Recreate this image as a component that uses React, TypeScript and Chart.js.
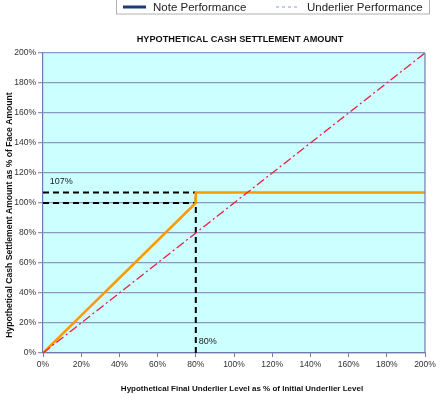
import React, { useEffect, useRef } from "react";
import { Chart, registerables } from "chart.js";

Chart.register(...registerables);

const chartTitle = "HYPOTHETICAL CASH SETTLEMENT AMOUNT";
const xAxisTitle = "Hypothetical Final Underlier Level as % of Initial Underlier Level";
const yAxisTitle = "Hypothetical Cash Settlement Amount as % of Face Amount";
const legendLabels = ["Note Performance", "Underlier Performance"];

const noteX = [0, 80, 80, 200];
const noteY = [0, 100, 107, 107];
const underlierX = [0, 200];
const underlierY = [0, 200];

const capLevel = 107;
const parLevel = 100;
const thresholdLevel = 80;
const capLabel = "107%";
const thresholdLabel = "80%";

const axisMin = 0;
const axisMax = 200;
const axisStep = 20;

const FONT = "'Liberation Sans', Arial, sans-serif";

const toPts = (xs: number[], ys: number[]) => xs.map((x, i) => ({ x, y: ys[i] }));

const decor = {
  id: "decor",
  beforeDraw(chart: any) {
    const { ctx, chartArea: a } = chart;
    ctx.save();
    ctx.fillStyle = "#ffffff";
    ctx.fillRect(0, 0, chart.width, chart.height);
    ctx.fillStyle = "#ccffff";
    ctx.fillRect(a.left, a.top, a.right - a.left, a.bottom - a.top);
    ctx.restore();
  },
  afterDraw(chart: any) {
    const { ctx, chartArea: a, scales } = chart;
    const xs = scales.x;
    const ys = scales.y;
    ctx.save();
    // right border
    ctx.strokeStyle = "#6f7bb0";
    ctx.lineWidth = 1.2;
    ctx.beginPath();
    ctx.moveTo(a.right, a.top);
    ctx.lineTo(a.right, a.bottom);
    ctx.stroke();

    // legend box
    ctx.fillStyle = "#ffffff";
    ctx.fillRect(116, 0, 314, 14);
    ctx.strokeStyle = "#b0b0b0";
    ctx.lineWidth = 1;
    ctx.strokeRect(116.5, -1, 313, 15);
    ctx.strokeStyle = "#1f3a7a";
    ctx.lineWidth = 3;
    ctx.beginPath();
    ctx.moveTo(123, 7);
    ctx.lineTo(146, 7);
    ctx.stroke();
    ctx.strokeStyle = "#7fa0d8";
    ctx.lineWidth = 1;
    ctx.setLineDash([3, 3]);
    ctx.beginPath();
    ctx.moveTo(276, 7);
    ctx.lineTo(299, 7);
    ctx.stroke();
    ctx.setLineDash([]);
    ctx.fillStyle = "#222222";
    ctx.font = `11.5px ${FONT}`;
    ctx.textBaseline = "middle";
    ctx.textAlign = "left";
    ctx.fillText(legendLabels[0], 153, 7.5);
    ctx.fillText(legendLabels[1], 307, 7.5);

    // title
    ctx.font = `bold 9.2px ${FONT}`;
    ctx.textAlign = "center";
    ctx.fillStyle = "#111111";
    ctx.fillText(chartTitle, 240, 39);

    // x axis title
    ctx.font = `bold 8px ${FONT}`;
    ctx.fillText(xAxisTitle, 242, 389);

    // y axis title
    ctx.save();
    ctx.translate(10, 215);
    ctx.rotate(-Math.PI / 2);
    ctx.font = `bold 8.6px ${FONT}`;
    ctx.fillText(yAxisTitle, 0, 0);
    ctx.restore();

    // reference labels
    ctx.font = `9px ${FONT}`;
    ctx.textAlign = "left";
    ctx.fillStyle = "#222222";
    ctx.fillText(capLabel, xs.getPixelForValue(3.5), ys.getPixelForValue(capLevel) - 10.5);
    ctx.fillText(thresholdLabel, xs.getPixelForValue(thresholdLevel) + 3, ys.getPixelForValue(0) - 11);
    ctx.restore();
  },
};

export default function App() {
  const ref = useRef<HTMLCanvasElement>(null);
  useEffect(() => {
    if (!ref.current) return;
    const dash = [6, 4];
    const chart = new Chart(ref.current, {
      type: "scatter",
      data: {
        datasets: [
          {
            label: legendLabels[1],
            data: toPts(underlierX, underlierY),
            showLine: true,
            borderColor: "#e8203c",
            borderWidth: 1.3,
            borderDash: [9, 3, 2, 3],
            pointRadius: 0,
            order: 0,
          },
          {
            label: legendLabels[0],
            data: toPts(noteX, noteY),
            showLine: true,
            borderColor: "#ff9900",
            borderWidth: 2.6,
            pointRadius: 0,
            order: 1,
          },
          {
            label: "cap",
            data: toPts([0, thresholdLevel], [capLevel, capLevel]),
            showLine: true,
            borderColor: "#000000",
            borderWidth: 2,
            borderDash: dash,
            pointRadius: 0,
            order: 2,
          },
          {
            label: "par",
            data: toPts([0, thresholdLevel], [parLevel, parLevel]),
            showLine: true,
            borderColor: "#000000",
            borderWidth: 2,
            borderDash: dash,
            pointRadius: 0,
            order: 2,
          },
          {
            label: "threshold",
            data: toPts([thresholdLevel, thresholdLevel], [0, capLevel]),
            showLine: true,
            borderColor: "#000000",
            borderWidth: 2,
            borderDash: dash,
            pointRadius: 0,
            order: 2,
          },
        ],
      },
      options: {
        animation: false,
        responsive: false,
        layout: { padding: { top: 53, right: 15, left: 0, bottom: 0 } },
        plugins: {
          legend: { display: false },
          title: { display: false },
          tooltip: { enabled: false },
        },
        scales: {
          x: {
            type: "linear",
            min: axisMin,
            max: axisMax,
            afterFit: (s: any) => {
              s.height = 45;
            },
            grid: {
              drawOnChartArea: false,
              drawTicks: true,
              tickLength: 4,
              color: "#6f7bb0",
            },
            border: { color: "#6f7bb0", width: 1.2 },
            ticks: {
              stepSize: axisStep,
              padding: 3,
              maxRotation: 0,
              color: "#333333",
              font: { size: 8.5, family: FONT },
              callback: (v: any) => `${v}%`,
            },
          },
          y: {
            type: "linear",
            min: axisMin,
            max: axisMax,
            afterFit: (s: any) => {
              s.width = 43;
            },
            grid: {
              color: "#8d97c2",
              lineWidth: 1.3,
              drawTicks: true,
              tickLength: 5,
            },
            border: { color: "#6f7bb0", width: 1.2 },
            ticks: {
              stepSize: axisStep,
              padding: 2,
              color: "#333333",
              font: { size: 8.5, family: FONT },
              callback: (v: any) => `${v}%`,
            },
          },
        },
      },
      plugins: [decor],
    });
    return () => chart.destroy();
  }, []);
  return (
    <div style={{ position: "absolute", left: 0, top: 0, width: 440, height: 398 }}>
      <canvas ref={ref} width={440} height={398} style={{ width: 440, height: 398 }} />
    </div>
  );
}
